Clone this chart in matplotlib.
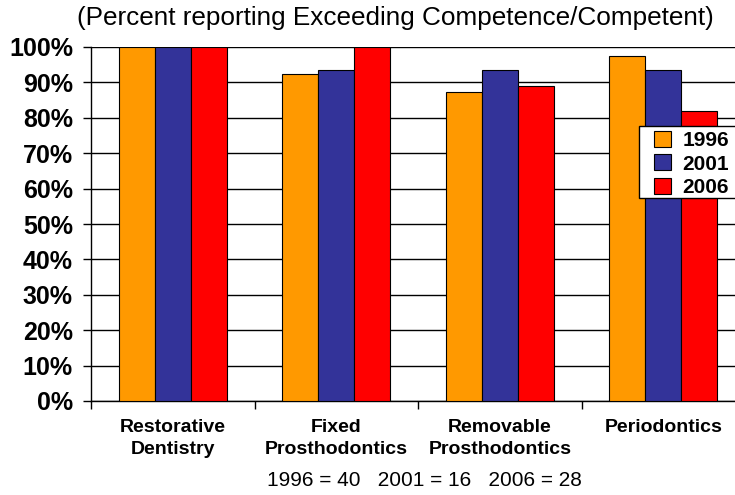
import numpy as np
import matplotlib
matplotlib.use("Agg")
import matplotlib.pyplot as plt
from matplotlib.patches import Rectangle
from matplotlib.ticker import FixedLocator, NullFormatter

plt.rcParams['font.family'] = ['Liberation Sans', 'DejaVu Sans']

# dane
categories = ["Restorative\nDentistry", "Fixed\nProsthodontics",
              "Removable\nProsthodontics", "Periodontics"]
years = ["1996", "2001", "2006"]
pct_1996 = [100, 92.5, 87.3, 97.4]
pct_2001 = [100, 93.6, 93.6, 93.6]
pct_2006 = [100, 100, 89.1, 81.9]
colors = ["#FF9900", "#333399", "#FF0000"]
y_ticks = [0, 10, 20, 30, 40, 50, 60, 70, 80, 90, 100]
y_labels = [f"{v}%" for v in y_ticks]

fig = plt.figure(figsize=(7.35, 4.95), dpi=100)
# prawa krawędź osi wychodzi poza obraz (jak w oryginale)
ax = fig.add_axes([91 / 735, 1 - 401 / 495, 654 / 735, 354 / 495])

x = np.arange(len(categories))
width = 0.22
series = [pct_1996, pct_2001, pct_2006]
for i, (vals, col, lab) in enumerate(zip(series, colors, years)):
    ax.bar(x + (i - 1) * width, vals, width, color=col, edgecolor="black",
           linewidth=0.8, label=lab, zorder=3)

ax.set_xlim(-0.5, len(categories) - 0.5)
ax.set_ylim(0, 100)
ax.set_yticks(y_ticks)
ax.set_yticklabels(y_labels, fontsize=18, fontweight="bold")
ax.yaxis.grid(True, color="black", linewidth=1, zorder=0)
ax.set_axisbelow(True)

# etykiety kategorii bez kresek, kreski na granicach grup
ax.set_xticks(x)
ax.set_xticklabels(categories, fontsize=14, fontweight="bold", linespacing=1.35)
ax.tick_params(axis="x", length=0, pad=13)
ax.xaxis.set_minor_locator(FixedLocator(np.arange(-0.5, len(categories), 1.0)))
ax.xaxis.set_minor_formatter(NullFormatter())
ax.tick_params(axis="x", which="minor", length=6, width=1, direction="out")
ax.tick_params(axis="y", length=6, width=1, direction="out", pad=7)

for s in ["top", "right"]:
    ax.spines[s].set_visible(False)
ax.spines["left"].set_linewidth(1)
ax.spines["bottom"].set_linewidth(1)

# ramka legendy (wychodzi poza prawą krawędź)
frame = Rectangle((639 / 735, 1 - 198 / 495), 110 / 735, 72 / 495,
                  transform=fig.transFigure, facecolor="white", edgecolor="black",
                  linewidth=1, zorder=4, clip_on=False)
ax.add_patch(frame)
leg = ax.legend(loc="upper left", bbox_to_anchor=(652 / 735, 1 - 129 / 495),
                bbox_transform=fig.transFigure, prop={"weight": "bold", "size": 15},
                frameon=False, handlelength=0.8, handleheight=0.8, handletextpad=0.55,
                labelspacing=0.2, borderpad=0.1, borderaxespad=0)
leg.set_zorder(5)

fig.text(395 / 735, 1 - 18 / 495, "(Percent reporting Exceeding Competence/Competent)",
         fontsize=18.8, ha="center", va="center")
fig.text(424 / 735, 1 - 481 / 495, "1996 = 40   2001 = 16   2006 = 28",
         fontsize=15, ha="center", va="center")

fig.savefig("out.png", dpi=100)
